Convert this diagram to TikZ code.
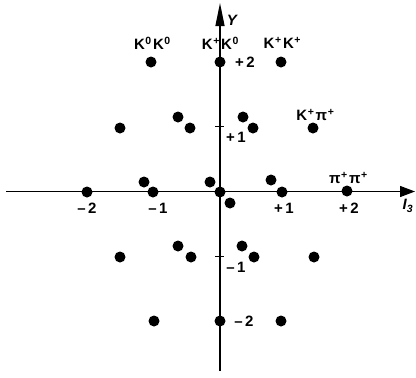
\documentclass[tikz,border=0pt]{standalone}
\usepackage{fontspec}
\setmainfont{Liberation Sans}
\usetikzlibrary{arrows.meta}
\newcommand{\mysup}[1]{\kern0.6pt\textsuperscript{#1}\kern1.2pt}
\newcommand{\mysg}[1]{#1\kern2.5pt}
\begin{document}
\begin{tikzpicture}[x=1pt,y=-1pt,
 dot/.style={circle,fill=black,inner sep=0pt,minimum size=11pt},
 lbl/.style={font=\fontsize{15}{17}\selectfont\bfseries,inner sep=0pt},
 ax/.style={line width=1.3pt}]
\useasboundingbox (0,0) rectangle (416,378);
% axes
\coordinate (xl) at (6,191.5);
\coordinate (xr) at (415,191.5);
\coordinate (yb) at (220,371);
\coordinate (yt) at (220,3);
\draw[ax,-{Triangle[length=15pt,width=11pt]}] (xl) -- (xr);
\draw[ax,-{Triangle[length=23pt,width=9pt]}] (yb) -- (yt);
% ticks on Y axis
\coordinate (t1a) at (215,126.5); \coordinate (t1b) at (224,126.5);
\coordinate (t2a) at (215,256.5); \coordinate (t2b) at (224,256.5);
\draw[ax] (t1a) -- (t1b);
\draw[ax] (t2a) -- (t2b);
% dots, Y=+2
\node[dot] (a1) at (151,62) {};
\node[dot] (a2) at (220,62) {};
\node[dot] (a3) at (281,62) {};
% Y=+1 row
\node[dot] (b1) at (120,128) {};
\node[dot] (b2) at (190,128) {};
\node[dot] (b3) at (253,128) {};
\node[dot] (b4) at (313,128) {};
\node[dot] (b5) at (178,117) {};
\node[dot] (b6) at (243,117) {};
% on the I3 axis
\node[dot] (c1) at (87,192) {};
\node[dot] (c2) at (153,192) {};
\node[dot] (c3) at (220,192) {};
\node[dot] (c4) at (282,192) {};
\node[dot] (c5) at (347,191) {};
% near the axis
\node[dot] (d1) at (144,182) {};
\node[dot] (d2) at (210,182) {};
\node[dot] (d3) at (271,180) {};
\node[dot] (d4) at (230,203) {};
% Y=-1 row
\node[dot] (e1) at (120,257) {};
\node[dot] (e2) at (191,257) {};
\node[dot] (e3) at (254,257) {};
\node[dot] (e4) at (314,257) {};
\node[dot] (e5) at (178,246) {};
\node[dot] (e6) at (242,246) {};
% Y=-2 row
\node[dot] (f1) at (154,321) {};
\node[dot] (f2) at (220,321) {};
\node[dot] (f3) at (281,321) {};
% labels
\node[lbl] (l1) at (153,43) {K\mysup{0}K\mysup{0}};
\node[lbl] (l2) at (221,43) {K\mysup{+}K\mysup{0}};
\node[lbl] (l3) at (283,43) {K\mysup{+}K\mysup{+}};
\node[lbl] (l4) at (245,62) {\mysg{+}2};
\node[lbl] (l5) at (316,115) {K\mysup{+}π\mysup{+}};
\node[lbl] (l6) at (236,137) {\mysg{+}1};
\node[lbl] (l7) at (349,178) {π\mysup{+}π\mysup{+}};
\node[lbl] (l8) at (349,208) {\mysg{+}2};
\node[lbl] (l9) at (284,208) {\mysg{+}1};
\node[lbl] (l10) at (158,208) {\mysg{–}1};
\node[lbl] (l11) at (87,208) {\mysg{–}2};
\node[lbl] (l12) at (236,267) {\mysg{–}1};
\node[lbl] (l13) at (244,321) {\mysg{–}2};
\node[lbl] (ly) at (232,20) {\itshape Y};
\node[lbl] (li) at (408,206) {\itshape I\textsubscript{3}};
\end{tikzpicture}
\end{document}
